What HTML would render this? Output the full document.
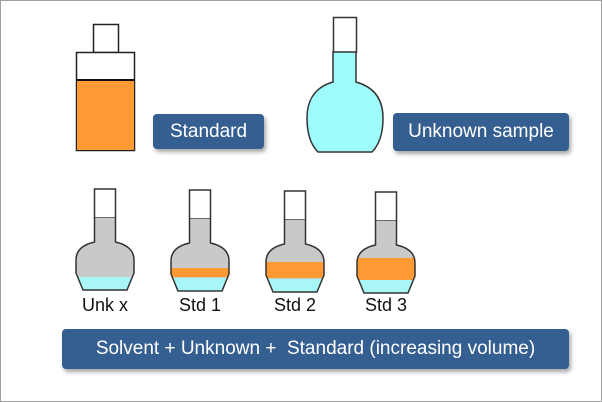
<!DOCTYPE html>
<html><head><style>
html,body{margin:0;padding:0;background:#fff}
.wrap{position:relative;width:600px;height:400px;border:1px solid #a0a0a0;overflow:hidden}
.lbl{position:absolute;background:#355e91;color:#fff;font-family:"Liberation Sans",sans-serif;border-radius:4px;box-shadow:2px 3px 4px rgba(0,0,0,.35);display:flex;align-items:center;justify-content:center;font-size:19px}
.t{position:absolute;font-family:"Liberation Sans",sans-serif;font-size:18px;color:#111;text-align:center;width:70px}
</style></head><body><div class="wrap">
<svg width="600" height="400" style="position:absolute;left:-1px;top:-1px">
<defs>
<clipPath id="f"><path d="M-10.5,0 V24 C-24,27 -29,34 -29,42 V55 L-22,72 H22 L29,55 V42 C29,34 24,27 10.5,24 V0 Z"/></clipPath>
</defs>
<rect x="93.5" y="24.5" width="25" height="28" fill="#fff" stroke="#222" stroke-width="1.5"/>
<rect x="76.5" y="52.5" width="58" height="98" fill="#fff" stroke="#222" stroke-width="1.5"/>
<rect x="77" y="80" width="57" height="70" fill="#fd9a33"/>
<line x1="76" y1="80" x2="135" y2="80" stroke="#111" stroke-width="2"/>
<rect x="333.5" y="17.5" width="23" height="35" fill="#fff" stroke="#333" stroke-width="1.5"/>
<path d="M333,52 V82 C312,88 307,104 307,118 C307,134 311,145 318,152 H372 C379,145 383,134 383,118 C383,104 378,88 356,82 V52 Z" fill="#9efcfc" stroke="#333" stroke-width="1.5"/>
<g transform="translate(105,218)">
<rect x="-10.5" y="-29" width="21" height="29" fill="#fff" stroke="#333" stroke-width="1.5"/>
<g clip-path="url(#f)"><rect x="-30" y="0" width="60" height="60" fill="#c9c9c9"/><rect x="-30" y="59" width="60" height="15" fill="#a8f6f6"/></g>
<path d="M-10.5,0 V24 C-24,27 -29,34 -29,42 V55 L-22,72 H22 L29,55 V42 C29,34 24,27 10.5,24 V0" fill="none" stroke="#333" stroke-width="1.5"/>
</g>
<g transform="translate(200,219)">
<rect x="-10.5" y="-29" width="21" height="29" fill="#fff" stroke="#333" stroke-width="1.5"/>
<g clip-path="url(#f)"><rect x="-30" y="0" width="60" height="60" fill="#c9c9c9"/><rect x="-30" y="49" width="60" height="9" fill="#fd9a33"/><rect x="-30" y="59" width="60" height="15" fill="#a8f6f6"/></g>
<path d="M-10.5,0 V24 C-24,27 -29,34 -29,42 V55 L-22,72 H22 L29,55 V42 C29,34 24,27 10.5,24 V0" fill="none" stroke="#333" stroke-width="1.5"/>
</g>
<g transform="translate(295,220)">
<rect x="-10.5" y="-29" width="21" height="29" fill="#fff" stroke="#333" stroke-width="1.5"/>
<g clip-path="url(#f)"><rect x="-30" y="0" width="60" height="60" fill="#c9c9c9"/><rect x="-30" y="42" width="60" height="16" fill="#fd9a33"/><rect x="-30" y="59" width="60" height="15" fill="#a8f6f6"/></g>
<path d="M-10.5,0 V24 C-24,27 -29,34 -29,42 V55 L-22,72 H22 L29,55 V42 C29,34 24,27 10.5,24 V0" fill="none" stroke="#333" stroke-width="1.5"/>
</g>
<g transform="translate(386,221)">
<rect x="-10.5" y="-29" width="21" height="29" fill="#fff" stroke="#333" stroke-width="1.5"/>
<g clip-path="url(#f)"><rect x="-30" y="0" width="60" height="60" fill="#c9c9c9"/><rect x="-30" y="37" width="60" height="22" fill="#fd9a33"/><rect x="-30" y="59" width="60" height="15" fill="#a8f6f6"/></g>
<path d="M-10.5,0 V24 C-24,27 -29,34 -29,42 V55 L-22,72 H22 L29,55 V42 C29,34 24,27 10.5,24 V0" fill="none" stroke="#333" stroke-width="1.5"/>
</g>
</svg>
<div class="lbl" style="left:152px;top:113px;width:111px;height:35px">Standard</div>
<div class="lbl" style="left:392px;top:112px;width:176px;height:38px">Unknown sample</div>
<div class="t" style="left:69px;top:294px">Unk x</div>
<div class="t" style="left:164px;top:294px">Std 1</div>
<div class="t" style="left:259px;top:294px">Std 2</div>
<div class="t" style="left:350px;top:294px">Std 3</div>
<div class="lbl" style="left:61px;top:328px;width:507px;height:40px">Solvent + Unknown + &nbsp;Standard (increasing volume)</div>
</div></body></html>
